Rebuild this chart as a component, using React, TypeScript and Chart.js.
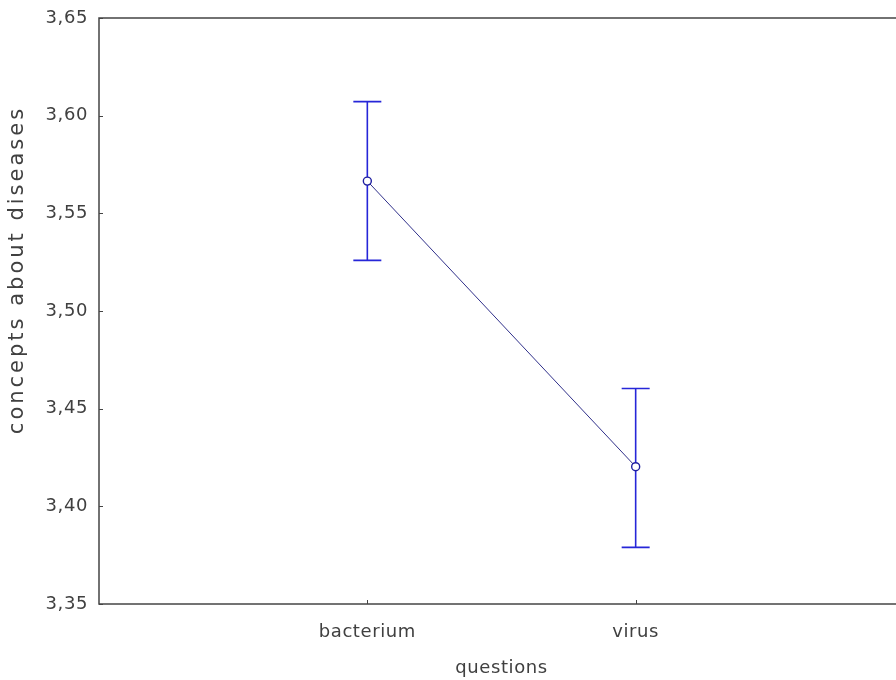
import React, { useEffect, useRef } from "react";
import { Chart, registerables } from "chart.js";

Chart.register(...registerables);

const categories = ["bacterium", "virus"];
const means = [3.5665, 3.4203];
const upper = [3.6072, 3.4603];
const lower = [3.5259, 3.3790];
const yTicks = [3.35, 3.4, 3.45, 3.5, 3.55, 3.6, 3.65];
const xTitle = "questions";
const yTitle = "concepts about diseases";

const FONT = "DejaVu Sans";
const TEXT = "#404040";

const framePlugin = {
  id: "frame",
  beforeDraw(chart: any) {
    chart.ctx.letterSpacing = "0.6px";
  },
  beforeDatasetsDraw(chart: any) {
    const { ctx, scales } = chart;
    const xs = scales.x;
    const ys = scales.y;
    ctx.save();
    ctx.strokeStyle = "#2626d8";
    ctx.lineWidth = 1.6;
    for (let i = 0; i < categories.length; i++) {
      const x = xs.getPixelForValue(i + 1);
      const yt = ys.getPixelForValue(upper[i]);
      const yb = ys.getPixelForValue(lower[i]);
      ctx.beginPath();
      ctx.moveTo(x, yt);
      ctx.lineTo(x, yb);
      ctx.moveTo(x - 14, yt);
      ctx.lineTo(x + 14, yt);
      ctx.moveTo(x - 14, yb);
      ctx.lineTo(x + 14, yb);
      ctx.stroke();
    }
    ctx.restore();
  },
  afterDraw(chart: any) {
    const { ctx, chartArea, scales } = chart;
    const { left, top, right, bottom } = chartArea;
    ctx.save();
    ctx.strokeStyle = "#444444";
    ctx.lineWidth = 1.5;
    ctx.strokeRect(left, top, right - left, bottom - top);
    ctx.lineWidth = 1;
    ctx.beginPath();
    for (const v of yTicks) {
      const y = Math.round(scales.y.getPixelForValue(v)) + 0.5;
      ctx.moveTo(left, y);
      ctx.lineTo(left + 4, y);
    }
    for (let i = 0; i < categories.length; i++) {
      const x = Math.round(scales.x.getPixelForValue(i + 1)) + 0.5;
      ctx.moveTo(x, bottom);
      ctx.lineTo(x, bottom - 4);
    }
    ctx.stroke();
    ctx.fillStyle = TEXT;
    ctx.textAlign = "center";
    ctx.textBaseline = "middle";
    ctx.letterSpacing = "0.6px";
    ctx.font = `18px "${FONT}"`;
    ctx.fillText(xTitle, (left + right) / 2, 668);
    ctx.letterSpacing = "3px";
    ctx.font = `21px "${FONT}"`;
    ctx.translate(18, 270);
    ctx.rotate(-Math.PI / 2);
    ctx.fillText(yTitle, 0, 0);
    ctx.restore();
  },
};

export default function App() {
  const ref = useRef<HTMLCanvasElement>(null);
  useEffect(() => {
    if (!ref.current) return;
    const chart = new Chart(ref.current, {
      type: "line",
      data: {
        datasets: [
          {
            data: means.map((m, i) => ({ x: i + 1, y: m })),
            borderColor: "#30308a",
            borderWidth: 1,
            pointRadius: 4,
            pointBackgroundColor: "#ffffff",
            pointBorderColor: "#1f1fa0",
            pointBorderWidth: 1.4,
            tension: 0,
          },
        ],
      },
      options: {
        animation: false,
        responsive: false,
        devicePixelRatio: 1,
        layout: { padding: { left: 0, top: 18, right: 16, bottom: 0 } },
        plugins: { legend: { display: false }, tooltip: { enabled: false } },
        scales: {
          x: {
            type: "linear",
            min: 0,
            max: 3,
            grid: { display: false, drawTicks: false },
            border: { display: false },
            afterBuildTicks: (s: any) => {
              s.ticks = categories.map((_, i) => ({ value: i + 1 }));
            },
            afterFit: (s: any) => {
              s.height = 76;
            },
            ticks: {
              padding: 18,
              color: TEXT,
              font: { family: FONT, size: 18 },
              maxRotation: 0,
              callback: (v: any) => categories[Number(v) - 1] ?? "",
            },
          },
          y: {
            min: 3.35,
            max: 3.65,
            grid: { display: false, drawTicks: false },
            border: { display: false },
            afterBuildTicks: (s: any) => {
              s.ticks = yTicks.map((v) => ({ value: v }));
            },
            afterFit: (s: any) => {
              s.width = 99;
              s.paddingTop = 0;
            },
            ticks: {
              padding: 11,
              color: TEXT,
              font: { family: FONT, size: 18, lineHeight: 1 },
              callback: (v: any) => Number(v).toFixed(2).replace(".", ","),
            },
          },
        },
      },
      plugins: [framePlugin],
    });
    return () => chart.destroy();
  }, []);
  return (
    <div
      style={{
        position: "absolute",
        left: 0,
        top: 0,
        width: 896,
        height: 680,
        overflow: "hidden",
        background: "#ffffff",
      }}
    >
      <canvas ref={ref} width={920} height={680} style={{ width: 920, height: 680, display: "block" }} />
    </div>
  );
}
